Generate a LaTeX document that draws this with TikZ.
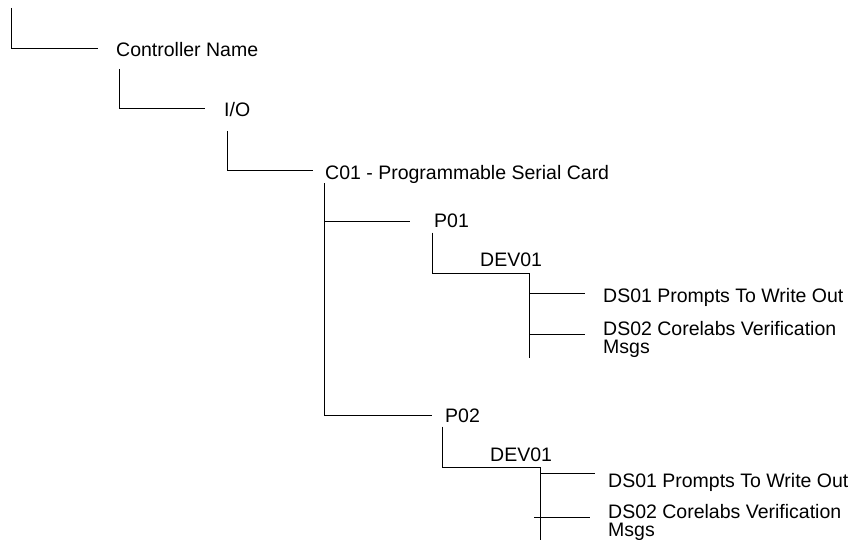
\documentclass[tikz,border=0pt]{standalone}
\usepackage{fontspec}
\setmainfont{Liberation Sans}
\usetikzlibrary{positioning}

\begin{document}
\begin{tikzpicture}[
  x=1pt, y=-1pt,
  item/.style={
    anchor=base west, inner sep=0pt, align=left,
    font=\fontsize{19.5}{18}\selectfont
  },
  ds/.style={item, anchor=north west},
  tree/.style={draw=black, line width=1pt}
]
  \useasboundingbox (0,0) rectangle (853,540);
  \coordinate (root) at (11.7,8);
  \node[item] (ctrl) at (116,57)    {Controller Name};
  \node[item] (io)   at (224,117)   {I/O};
  \node[item] (c01)  at (325,179)   {C01 - Programmable Serial Card};
  \node[item] (p01)  at (434,227.7) {P01};
  \node[item] (deva) at (480,266.7) {DEV01};
  \node[item] (dsaa) at (603,302.7) {DS01 Prompts To Write Out};
  \node[ds]   (dsab) at (603,321)   {DS02 Corelabs Verification\\Msgs};
  \node[item] (p02)  at (445,422.7) {P02};
  \node[item] (devb) at (490,461)   {DEV01};
  \node[item] (dsba) at (608,487)   {DS01 Prompts To Write Out};
  \node[ds]   (dsbb) at (608,504)   {DS02 Corelabs Verification\\Msgs};
  \coordinate (jadev) at ([xshift=49pt,yshift=-6.3pt]deva.base west);
  \coordinate (jbdev) at ([xshift=50pt,yshift=-6pt]devb.base west);
  \coordinate (dsbbin) at ([xshift=-18pt,yshift=-13pt]dsbb.north west);
  \draw[tree] (root) |- ([xshift=-18pt,yshift=8pt]ctrl.base west);
  \draw[tree] ([xshift=3pt,yshift=-12pt]ctrl.base west)
    |- ([xshift=-19pt,yshift=8pt]io.base west);
  \draw[tree] ([xshift=3pt,yshift=-14pt]io.base west)
    |- ([xshift=-12pt,yshift=8pt]c01.base west);
  \draw[tree] ([xshift=-1pt]c01.south west)
    |- ([xshift=-24pt,yshift=6pt]p01.base west);
  \draw[tree] ([xshift=-1pt]c01.south west)
    |- ([xshift=-13pt,yshift=7pt]p02.base west);
  \draw[tree] ([xshift=-2pt,yshift=-5pt]p01.base west) |- (jadev);
  \draw[tree] (jadev) |- ([xshift=-18pt,yshift=9.7pt]dsaa.base west);
  \draw[tree] (jadev) |- ([xshift=-18pt,yshift=-13pt]dsab.north west);
  \draw[tree] (jadev) -- (jadev |- dsab.south);
  \draw[tree] ([xshift=-2.3pt,yshift=-4pt]p02.base west) |- (jbdev);
  \draw[tree] (jbdev) |- ([xshift=-13pt,yshift=14pt]dsba.base west);
  \draw[tree] ([xshift=-6pt]jbdev |- dsbbin) -- (dsbbin);
  \draw[tree] (jbdev) -- (jbdev |- dsbb.south);
\end{tikzpicture}
\end{document}
